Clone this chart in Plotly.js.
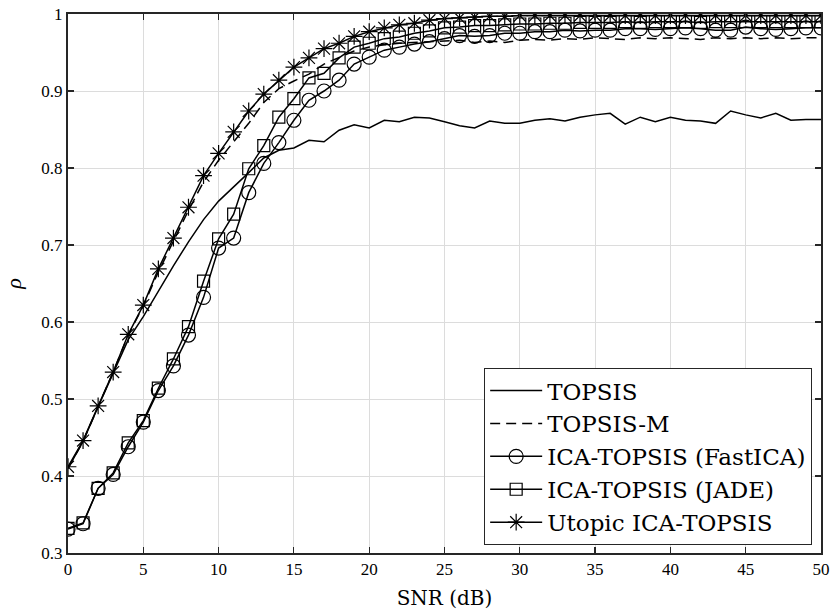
<!DOCTYPE html>
<html>
<head>
<meta charset="utf-8">
<script src="https://cdn.plot.ly/plotly-3.0.1.min.js"></script>
<style>html,body{margin:0;padding:0;background:#fff;}#chart{width:834px;height:616px;}</style>
</head>
<body>
<div id="chart"></div>
<script>
const snr = Array.from({length: 51}, (_, i) => i);

const topsis = [0.410,0.445,0.490,0.533,0.577,0.607,0.640,0.673,0.704,0.733,0.757,0.775,0.794,0.813,0.823,0.826,0.836,0.834,0.849,0.856,0.852,0.862,0.860,0.866,0.865,0.860,0.855,0.852,0.861,0.858,0.858,0.862,0.864,0.861,0.866,0.869,0.871,0.857,0.866,0.860,0.866,0.862,0.861,0.858,0.874,0.869,0.865,0.871,0.862,0.863,0.863];

const topsisM = [0.410,0.445,0.490,0.535,0.583,0.621,0.665,0.705,0.745,0.782,0.810,0.834,0.858,0.885,0.903,0.913,0.922,0.935,0.944,0.952,0.957,0.960,0.962,0.963,0.964,0.965,0.966,0.963,0.965,0.963,0.966,0.967,0.966,0.968,0.967,0.969,0.968,0.967,0.969,0.968,0.969,0.968,0.967,0.969,0.968,0.969,0.968,0.969,0.968,0.969,0.969];

const fastICA = [0.331,0.338,0.384,0.402,0.438,0.470,0.511,0.543,0.583,0.632,0.696,0.709,0.768,0.806,0.833,0.862,0.888,0.900,0.914,0.935,0.944,0.953,0.957,0.961,0.964,0.968,0.972,0.971,0.972,0.975,0.975,0.977,0.977,0.979,0.978,0.979,0.979,0.981,0.981,0.980,0.981,0.982,0.981,0.979,0.979,0.983,0.981,0.980,0.981,0.982,0.982];

const jade = [0.332,0.339,0.384,0.404,0.443,0.472,0.514,0.552,0.594,0.653,0.708,0.740,0.799,0.829,0.866,0.890,0.917,0.923,0.943,0.957,0.962,0.968,0.970,0.975,0.978,0.982,0.983,0.985,0.985,0.986,0.987,0.987,0.988,0.988,0.989,0.989,0.989,0.990,0.989,0.990,0.990,0.990,0.989,0.990,0.990,0.990,0.990,0.990,0.990,0.990,0.990];

const utopic = [0.412,0.446,0.491,0.535,0.584,0.622,0.669,0.709,0.749,0.790,0.819,0.847,0.874,0.896,0.914,0.931,0.943,0.955,0.962,0.971,0.977,0.982,0.986,0.988,0.992,0.994,0.995,0.996,0.997,0.997,0.998,0.998,0.998,0.998,0.998,0.998,0.998,0.998,0.998,0.998,0.998,0.998,0.998,0.998,0.998,0.998,0.998,0.998,0.998,0.998,0.998];

const names = ['TOPSIS','TOPSIS-M','ICA-TOPSIS (FastICA)','ICA-TOPSIS (JADE)','Utopic ICA-TOPSIS'];
const yTickVals = [0.3,0.4,0.5,0.6,0.7,0.8,0.9,1];
const yTickText = ['0.3','0.4','0.5','0.6','0.7','0.8','0.9','1'];
const xTickVals = [0,5,10,15,20,25,30,35,40,45,50];

const lineStyle = {color:'#000', width:1.5};
const mk = (sym, size) => ({symbol: sym, size: size, color:'#000', line:{color:'#000', width:1.2}});

const traces = [
  {x: snr, y: topsis, name: names[0], mode:'lines', line: lineStyle},
  {x: snr, y: topsisM, name: names[1], mode:'lines', line: {color:'#000', width:1.5, dash:'10px,6px'}},
  {x: snr, y: fastICA, name: names[2], mode:'lines+markers', line: lineStyle, marker: mk('circle-open', 14)},
  {x: snr, y: jade, name: names[3], mode:'lines+markers', line: lineStyle, marker: mk('square-open', 12)},
  {x: snr, y: utopic, name: names[4], mode:'lines+markers', line: lineStyle, marker: mk('asterisk-open', 14)}
];

const serif = '"Liberation Serif", serif';
const wide = '"DejaVu Serif", serif';

const layout = {
  width: 834, height: 616,
  margin: {l: 68, r: 13, t: 14, b: 63},
  paper_bgcolor:'#fff', plot_bgcolor:'#fff',
  font: {family: serif, size: 16, color:'#000'},
  showlegend: true,
  legend: {
    x: 0.988, y: 0.015, xanchor:'right', yanchor:'bottom',
    bgcolor:'#fff', bordercolor:'#262626', borderwidth:1.2,
    font: {family: wide, size: 23, color:'#000'},
    itemwidth: 52, traceorder:'normal'
  },
  xaxis: {
    range:[0,50], tickvals: xTickVals, ticks:'inside', ticklen:6, tickwidth:1.2, tickcolor:'#262626',
    showline:true, linecolor:'#262626', linewidth:2, mirror:'ticks',
    showgrid:true, gridcolor:'#dcdcdc', gridwidth:1, zeroline:false,
    tickfont: {family: serif, size:17, color:'#000'},
    title: {text:'SNR (dB)', font: {family: wide, size:20, color:'#000'}, standoff: 13}
  },
  yaxis: {
    range:[0.3,1], tickvals: yTickVals, ticktext: yTickText, ticks:'inside', ticklen:6, tickwidth:1.2, tickcolor:'#262626',
    showline:true, linecolor:'#262626', linewidth:2, mirror:'ticks',
    showgrid:true, gridcolor:'#dcdcdc', gridwidth:1, zeroline:false,
    tickfont: {family: serif, size:17, color:'#000'},
    title: {text:'<i>ρ</i>', font: {family: serif, size:22, color:'#000'}, standoff: 14}
  }
};

Plotly.newPlot('chart', traces, layout, {displayModeBar:false, staticPlot:true});
</script>
</body>
</html>
